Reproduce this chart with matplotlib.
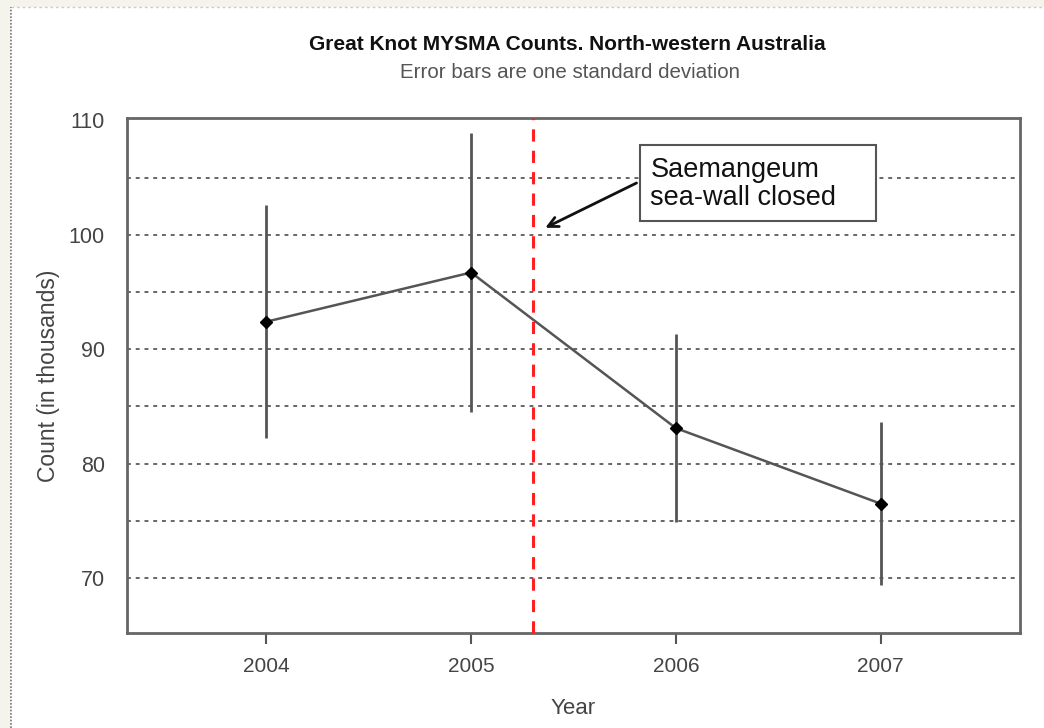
import matplotlib.pyplot as plt
from matplotlib.patches import Rectangle

plt.rcParams['font.family'] = ['Liberation Sans', 'DejaVu Sans']

# Great Knot counts (thousands) with one standard deviation
years = [2004, 2005, 2006, 2007]
counts = [92.4, 96.7, 83.1, 76.5]
sd = [10.2, 12.2, 8.2, 7.1]

seawall_closed = 2005.30
y_ticks = [70, 80, 90, 100, 110]
grid_levels = [70, 75, 80, 85, 90, 95, 100, 105]

fig = plt.figure(figsize=(10.44, 7.28), dpi=100, facecolor='white')

# beige window edge on the left and top
fig.patches.append(Rectangle((0, 0), 11 / 1044, 1, transform=fig.transFigure,
                             facecolor='#f4f4ec', edgecolor='none', zorder=-1))
fig.patches.append(Rectangle((0, 1 - 7 / 728), 1, 7 / 728, transform=fig.transFigure,
                             facecolor='#f4f4ec', edgecolor='none', zorder=-1))
fig.add_artist(plt.Line2D([11 / 1044, 11 / 1044], [0, 1 - 7 / 728], transform=fig.transFigure,
                          color='#777777', lw=1.2, ls=(0, (1, 1))))
fig.add_artist(plt.Line2D([11 / 1044, 1], [1 - 7 / 728, 1 - 7 / 728], transform=fig.transFigure,
                          color='#cccccc', lw=1.0, ls=(0, (2, 2))))

ax = fig.add_axes([127 / 1044, 1 - 633 / 728, (1020 - 127) / 1044, (633 - 118) / 728])
ax.set_xlim(2003.32, 2007.68)
ax.set_ylim(65.2, 110.2)

for lvl in grid_levels:
    ax.axhline(lvl, color='#666666', lw=1.4, ls=(0, (2, 2.5)), zorder=1)

ax.errorbar(years, counts, yerr=sd, fmt='none', ecolor='#555555', elinewidth=2, capsize=0, zorder=2)
ax.plot(years, counts, color='#555555', lw=1.8, zorder=3)
ax.plot(years, counts, 'D', color='black', ms=6, zorder=4)

ax.axvline(seawall_closed, color='#ff2020', lw=2.2, ls=(0, (4, 3)), zorder=5)

# label box and arrow pointing at the closure date
ax.add_patch(Rectangle((2005.827, 101.22), 2006.975 - 2005.827, 107.86 - 101.22,
                       facecolor='white', edgecolor='#555555', lw=1.5, zorder=6))
ax.text(2005.875, 106.8, 'Saemangeum\nsea-wall closed', ha='left', va='top',
        fontsize=19.5, color='#111111', linespacing=1.12, zorder=7)
ax.annotate('', xy=(2005.35, 100.5), xytext=(2005.82, 104.63),
            arrowprops=dict(arrowstyle='->', color='#111111', lw=2, mutation_scale=18), zorder=7)

ax.set_xticks(years)
ax.set_xticklabels([str(y) for y in years])
ax.set_yticks(y_ticks)
ax.tick_params(axis='x', length=8, width=1.5, color='#555555', pad=9, labelsize=15, labelcolor='#444444')
ax.tick_params(axis='y', length=0, pad=16, labelsize=15.5, labelcolor='#444444')
for s in ax.spines.values():
    s.set_color('#666666')
    s.set_linewidth(2)

ax.set_xlabel('Year', fontsize=16, color='#444444', labelpad=16)
ax.set_ylabel('Count (in thousands)', fontsize=16.5, color='#444444', labelpad=6)

fig.text(567 / 1044, 1 - 45 / 728, 'Great Knot MYSMA Counts. North-western Australia',
         ha='center', va='center', fontsize=15, fontweight='bold', color='#111111')
fig.text(570 / 1044, 1 - 72 / 728, 'Error bars are one standard deviation',
         ha='center', va='center', fontsize=14.8, color='#555555')

fig.savefig('out.png', dpi=100, facecolor='white')
